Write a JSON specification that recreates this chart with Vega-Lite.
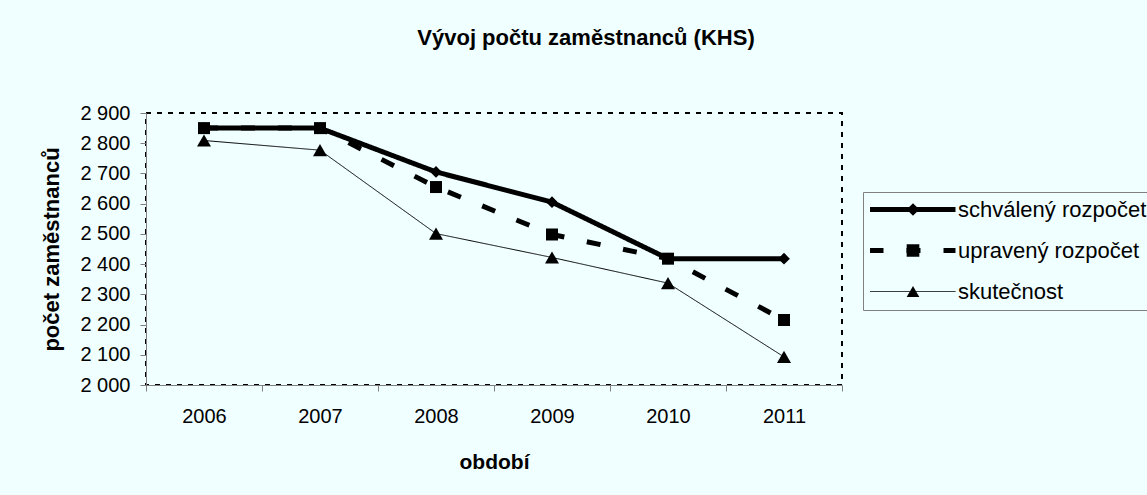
{
  "$schema": "https://vega.github.io/schema/vega-lite/v6.json",
  "width": 696,
  "height": 272,
  "autosize": {"type": "none"},
  "padding": {"left": 146, "top": 113, "right": 305, "bottom": 110},
  "background": "#F0FFFF",
  "title": {
    "text": "Vývoj počtu zaměstnanců (KHS)",
    "font": "Liberation Sans",
    "fontSize": 22,
    "fontWeight": "bold",
    "color": "black",
    "anchor": "middle",
    "dx": 92,
    "offset": 53
  },
  "config": {
    "view": {"stroke": "black", "strokeDash": [5, 6], "strokeWidth": 2, "fill": "#F0FFFF"},
    "axis": {
      "domainColor": "#808080",
      "tickColor": "#808080",
      "tickSize": 6,
      "grid": false,
      "labelColor": "black",
      "labelFont": "Liberation Sans",
      "labelFontSize": 20,
      "titleColor": "black",
      "titleFont": "Liberation Sans",
      "titleFontSize": 21,
      "titleFontWeight": "bold"
    }
  },
  "data": {
    "values": [
      {"year": "2006", "series": "schválený rozpočet", "value": 2850},
      {"year": "2007", "series": "schválený rozpočet", "value": 2850},
      {"year": "2008", "series": "schválený rozpočet", "value": 2705},
      {"year": "2009", "series": "schválený rozpočet", "value": 2605},
      {"year": "2010", "series": "schválený rozpočet", "value": 2418},
      {"year": "2011", "series": "schválený rozpočet", "value": 2418},
      {"year": "2006", "series": "upravený rozpočet", "value": 2850},
      {"year": "2007", "series": "upravený rozpočet", "value": 2850},
      {"year": "2008", "series": "upravený rozpočet", "value": 2655},
      {"year": "2009", "series": "upravený rozpočet", "value": 2498},
      {"year": "2010", "series": "upravený rozpočet", "value": 2418},
      {"year": "2011", "series": "upravený rozpočet", "value": 2215},
      {"year": "2006", "series": "skutečnost", "value": 2809},
      {"year": "2007", "series": "skutečnost", "value": 2777},
      {"year": "2008", "series": "skutečnost", "value": 2501},
      {"year": "2009", "series": "skutečnost", "value": 2422},
      {"year": "2010", "series": "skutečnost", "value": 2337},
      {"year": "2011", "series": "skutečnost", "value": 2093}
    ]
  },
  "encoding": {
    "x": {
      "field": "year",
      "type": "ordinal",
      "scale": {"type": "band", "paddingInner": 0, "paddingOuter": 0},
      "axis": {"title": "období", "labelAngle": 0, "tickBand": "extent", "labelPadding": 15, "titlePadding": 25}
    },
    "y": {
      "field": "value",
      "type": "quantitative",
      "scale": {"domain": [2000, 2900], "nice": false, "zero": false},
      "axis": {
        "title": "počet zaměstnanců",
        "titleFontSize": 22,
        "values": [2000, 2100, 2200, 2300, 2400, 2500, 2600, 2700, 2800, 2900],
        "labelExpr": "replace(format(datum.value, ','), ',', ' ')",
        "labelPadding": 10,
        "titlePadding": 16
      }
    }
  },
  "layer": [
    {
      "mark": {"type": "line", "color": "black", "strokeCap": "butt", "strokeJoin": "miter"},
      "encoding": {
        "strokeDash": {
          "field": "series",
          "type": "nominal",
          "scale": {
            "domain": ["schválený rozpočet", "upravený rozpočet", "skutečnost"],
            "range": [[1, 0], [14, 23], [1, 0]]
          },
          "legend": {
            "title": null,
            "orient": "none",
            "legendX": 717,
            "legendY": 79,
            "symbolType": "stroke",
            "symbolSize": 7396,
            "clipHeight": 21,
            "symbolStrokeColor": "black",
            "labelFont": "Liberation Sans",
            "labelFontSize": 22,
            "labelColor": "black",
            "labelOffset": 0,
            "symbolOffset": -3,
            "rowPadding": 18,
            "padding": 7,
            "strokeColor": "#808080",
            "labelLimit": 400
          }
        },
        "strokeWidth": {
          "field": "series",
          "type": "nominal",
          "scale": {
            "type": "ordinal",
            "domain": ["schválený rozpočet", "upravený rozpočet", "skutečnost"],
            "range": [5, 5, 1]
          },
          "legend": {
            "title": null,
            "orient": "none",
            "legendX": 717,
            "legendY": 79,
            "symbolType": "stroke",
            "symbolSize": 7396,
            "clipHeight": 21,
            "symbolStrokeColor": "black",
            "labelFont": "Liberation Sans",
            "labelFontSize": 22,
            "labelColor": "black",
            "labelOffset": 0,
            "symbolOffset": -3,
            "rowPadding": 18,
            "padding": 7,
            "strokeColor": "#808080",
            "labelLimit": 400
          }
        }
      }
    },
    {
      "mark": {"type": "point", "filled": true, "color": "black", "opacity": 1},
      "encoding": {
        "shape": {
          "field": "series",
          "type": "nominal",
          "sort": ["schválený rozpočet", "upravený rozpočet", "skutečnost"],
          "scale": {"range": ["diamond", "square", "triangle-up"]},
          "legend": {
            "title": null,
            "orient": "none",
            "legendX": 749,
            "legendY": 79,
            "symbolFillColor": "black",
            "symbolStrokeColor": "black",
            "symbolStrokeWidth": 0,
            "symbolSize": 160,
            "clipHeight": 21,
            "labelFont": "Liberation Sans",
            "labelFontSize": 22,
            "labelExpr": "''",
            "rowPadding": 18,
            "padding": 7
          }
        },
        "size": {
          "field": "series",
          "type": "nominal",
          "sort": ["schválený rozpočet", "upravený rozpočet", "skutečnost"],
          "scale": {"type": "ordinal", "range": [137, 144, 196]},
          "legend": null
        }
      }
    }
  ]
}
